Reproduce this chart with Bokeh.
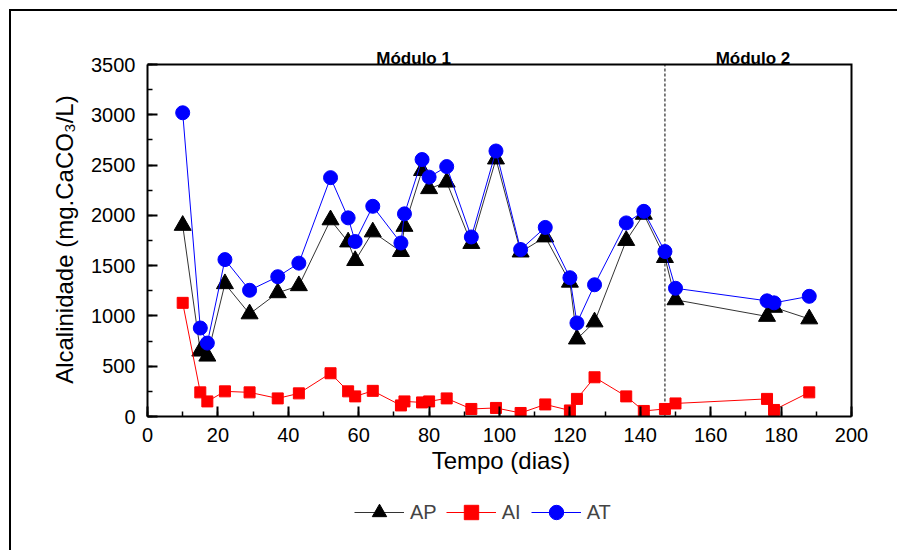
from bokeh.plotting import figure
from bokeh.layouts import column, row
from bokeh.models import (Range1d, SingleIntervalTicker, Label, Legend, LegendItem)
from bokeh.embed import file_html
from bokeh.resources import INLINE

# Data
days = [10, 15, 17, 22, 29, 37, 43, 52, 57, 59, 64, 72, 73, 78, 80, 85, 92, 99, 106,
        113, 120, 122, 127, 136, 141, 147, 150, 176, 178, 188]
AP = [1900, 650, 600, 1320, 1020, 1230, 1300, 1955, 1735, 1550, 1835, 1640, 1890, 2445,
      2265, 2330, 1720, 2560, 1635, 1785, 1335, 770, 940, 1750, 2010, 1580, 1160, 995,
      1085, 970]
AI = [1130, 240, 150, 250, 240, 180, 230, 430, 250, 200, 255, 110, 150, 140, 150, 180,
      75, 85, 35, 120, 60, 175, 390, 200, 55, 75, 130, 175, 65, 240]
AT = [3020, 880, 730, 1560, 1255, 1390, 1525, 2375, 1975, 1740, 2090, 1725, 2015, 2555,
      2380, 2485, 1785, 2640, 1660, 1880, 1380, 930, 1310, 1925, 2040, 1640, 1275, 1150,
      1130, 1195]
series_names = ["AP", "AI", "AT"]
module_change_day = 147
module_labels = ["Módulo 1", "Módulo 2"]
module_label_x = [75.6, 172]
x_lim = (0, 200)
y_lim = (0, 3500)

FONT = "Liberation Sans"

# ---- layout (pixels) ----
W, H = 897, 550
BOX_L, BOX_R, BOX_T, BOX_B = 147, 851, 64, 416     # the drawn data box
FRAME_T = 20                                        # frame extends above the box for labels
EXT_R = 3                                           # and a little right of it for the box line
MAIN_H = BOX_B + 80
BOT_H = H - MAIN_H

px_per_x = (BOX_R - BOX_L) / (x_lim[1] - x_lim[0])
px_per_y = (BOX_B - BOX_T) / (y_lim[1] - y_lim[0])

p = figure(width=W, height=MAIN_H, output_backend="svg", toolbar_location=None,
           x_range=Range1d(x_lim[0], x_lim[1] + EXT_R / px_per_x),
           y_range=Range1d(y_lim[0], y_lim[1] + (BOX_T - FRAME_T) / px_per_y),
           min_border_left=BOX_L, min_border_right=W - BOX_R - EXT_R,
           min_border_top=FRAME_T, min_border_bottom=MAIN_H - BOX_B)
p.title.visible = False
p.xgrid.visible = False
p.ygrid.visible = False
p.outline_line_color = None
p.background_fill_alpha = 0
p.border_fill_alpha = 0

for ax in (p.xaxis[0], p.yaxis[0]):
    ax.axis_line_width = 2
    ax.axis_line_color = "black"
    ax.major_tick_in = 10
    ax.major_tick_out = 0
    ax.minor_tick_in = 5
    ax.minor_tick_out = 0
    ax.major_tick_line_width = 2
    ax.minor_tick_line_width = 1.5
    ax.major_label_text_font = FONT
    ax.major_label_text_font_size = "20px"
    ax.major_label_text_color = "black"
    ax.axis_label_text_font = FONT
    ax.axis_label_text_font_size = "24px"
    ax.axis_label_text_font_style = "normal"
    ax.axis_label_text_color = "black"

p.xaxis[0].bounds = x_lim
p.yaxis[0].bounds = y_lim
p.xaxis[0].ticker = SingleIntervalTicker(interval=20, num_minor_ticks=2)
p.yaxis[0].ticker = SingleIntervalTicker(interval=500, num_minor_ticks=2)
p.xaxis[0].axis_label = "Tempo (dias)"
# trailing wide spaces re-centre the label on the data box (the frame reaches higher)
p.yaxis[0].axis_label = "Alcalinidade (mg.CaCO\u2083/L)\u2003\u2007\u2009"
p.xaxis[0].major_label_standoff = 11
p.yaxis[0].major_label_standoff = 12
p.xaxis[0].axis_label_standoff = 2
p.yaxis[0].axis_label_standoff = 10

# top and right edges of the data box
p.line([x_lim[0], x_lim[1], x_lim[1]], [y_lim[1], y_lim[1], y_lim[0]],
       line_color="black", line_width=2, line_join="miter")
# module divider
p.line([module_change_day, module_change_day], list(y_lim), line_color="black",
       line_width=1, line_dash="3 2")

styles = {
    "AP": dict(line="#333333", marker="triangle", size=17, fill="black"),
    "AI": dict(line="#ff0000", marker="square", size=11, fill="#ff0000"),
    "AT": dict(line="#0000ff", marker="circle", size=14, fill="#0000ff"),
}
series = dict(zip(series_names, [AP, AI, AT]))
for name in series_names:
    s = styles[name]
    p.line(days, series[name], line_color=s["line"], line_width=1)
    p.scatter(days, series[name], marker=s["marker"], size=s["size"], fill_color=s["fill"],
              line_color=s["fill"])

for txt, xx in zip(module_labels, module_label_x):
    p.add_layout(Label(x=xx, y=y_lim[1] + (BOX_T - 58) / px_per_y, text=txt,
                       text_align="center", text_baseline="alphabetic", text_font=FONT,
                       text_font_size="17px", text_font_style="bold", text_color="black"))

# ---- bottom strip: legend (its renderers lie outside the strip's visible range) ----
bot = figure(width=W, height=BOT_H, output_backend="svg", toolbar_location=None,
             x_axis_type=None, y_axis_type=None, min_border=0,
             x_range=Range1d(0, W), y_range=Range1d(-100, -100 + BOT_H))
bot.title.visible = False
bot.grid.visible = False
bot.outline_line_color = None
bot.background_fill_alpha = 0
bot.border_fill_alpha = 0
items = []
for name in series_names:
    s = styles[name]
    lr = bot.line(days, series[name], line_color=s["line"], line_width=1)
    mr = bot.scatter(days, series[name], marker=s["marker"], size=s["size"],
                     fill_color=s["fill"], line_color=s["fill"])
    items.append(LegendItem(label=name, renderers=[lr, mr]))
legend = Legend(items=items, orientation="horizontal", location=(354, H - 530),
                glyph_width=50, glyph_height=36, label_standoff=6, spacing=9,
                padding=0, margin=0, border_line_color=None, background_fill_alpha=0,
                label_text_font=FONT, label_text_font_size="20px", label_height=36)
bot.add_layout(legend, "center")

# outer figure border: left and top edges, drawn as the layout's background
layout = column(row(p, spacing=0), bot, spacing=0,
                styles={"background-color": "white",
                        "background-image": "linear-gradient(#000, #000), linear-gradient(#000, #000)",
                        "background-size": "2px 600px, 900px 2px",
                        "background-position": "9px 9px, 9px 9px",
                        "background-repeat": "no-repeat"})

open("out.html", "w").write(file_html(layout, INLINE))
